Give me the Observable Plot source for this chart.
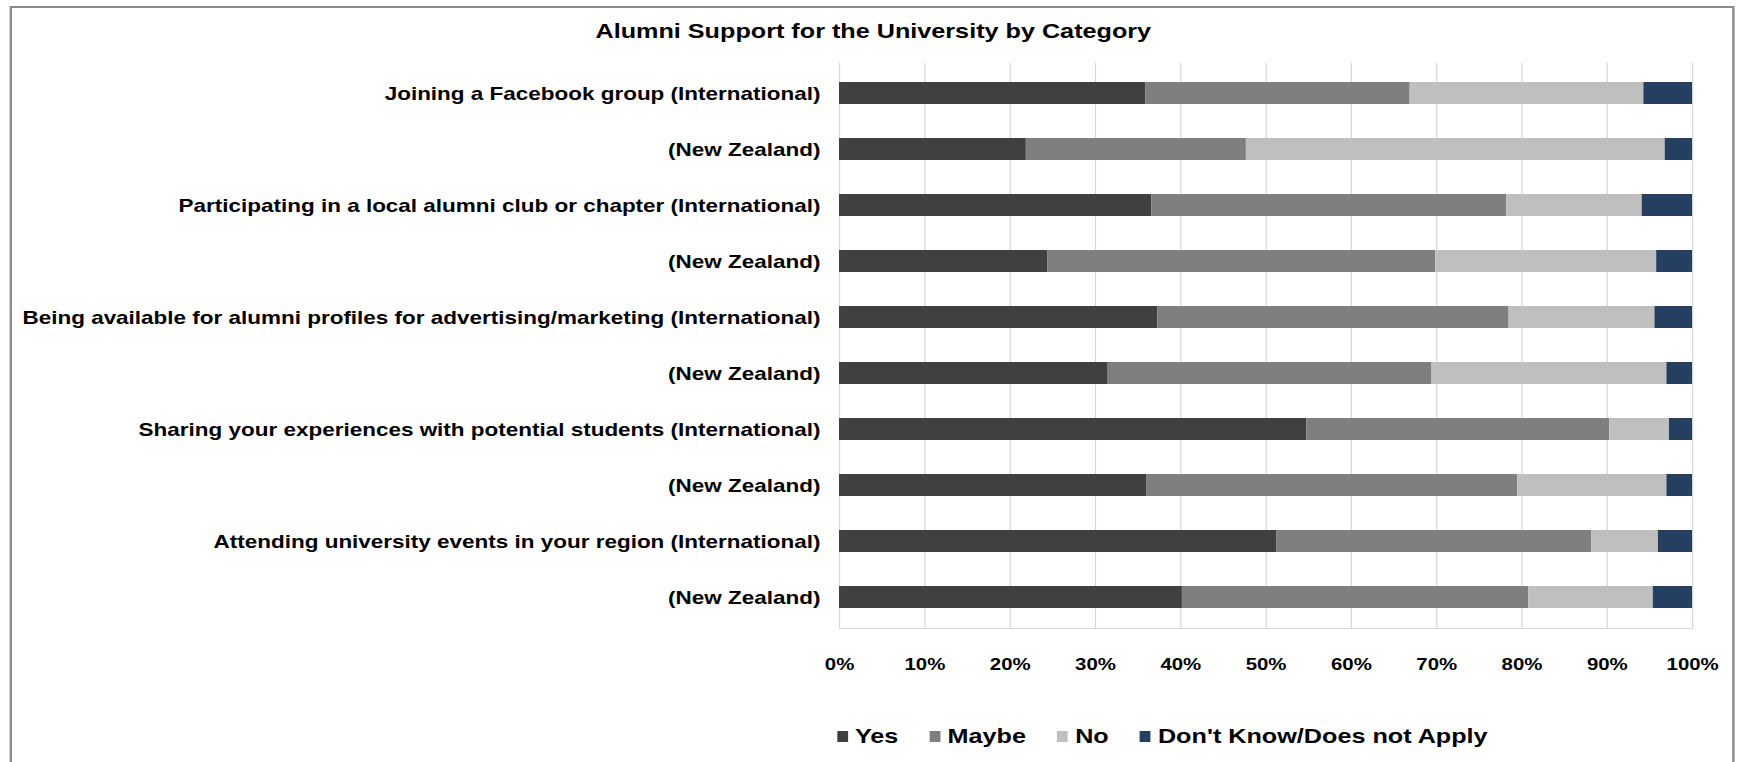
<!DOCTYPE html>
<html>
<head>
<meta charset="utf-8">
<script src="https://cdn.jsdelivr.net/npm/d3@7"></script>
<script src="https://cdn.jsdelivr.net/npm/@observablehq/plot@0.6"></script>
<style>
  html, body { margin: 0; padding: 0; background: #fff; overflow: hidden; }
  #page {
    position: absolute; left: 0; top: 0; width: 1448px; height: 762px;
    transform-origin: 0 0;
    font-family: "Liberation Sans", Arial, sans-serif; font-weight: bold; color: #000;
  }
  #frame {
    position: absolute; left: 8.3px; top: 6px; width: 1438px; height: 820px;
    box-sizing: border-box; border: 2px solid #8a8a8a;
  }
  #title {
    position: absolute; left: 0; top: 19px; width: 1456px; text-align: center;
    font-size: 21px; line-height: 24px;
  }
  #chart { position: absolute; left: 0; top: 0; }
  #legend {
    position: absolute; left: 697.7px; top: 724px; height: 24px;
    display: flex; align-items: center; gap: 26px; font-size: 21px; line-height: 24px;
  }
  .item { display: flex; align-items: center; }
  .sw { display: inline-block; width: 9px; height: 11px; margin-right: 6px; }
</style>
</head>
<body>
<div id="page">
  <div id="frame"></div>
  <div id="title"></div>
  <div id="chart"></div>
  <div id="legend"></div>
</div>
<script>
const title = "Alumni Support for the University by Category";
const categories = [
  "Joining a Facebook group (International)",
  "(New Zealand)",
  "Participating in a local alumni club or chapter (International)",
  "(New Zealand)",
  "Being available for alumni profiles for advertising/marketing (International)",
  "(New Zealand)",
  "Sharing your experiences with potential students (International)",
  "(New Zealand)",
  "Attending university events in your region (International)",
  "(New Zealand)"
];
const series = ["Yes", "Maybe", "No", "Don't Know/Does not Apply"];
const colors = ["#404040", "#7f7f7f", "#bfbfbf", "#243f60"];
const yes   = [35.9, 21.9, 36.6, 24.4, 37.3, 31.5, 54.8, 36.0, 51.3, 40.2];
const maybe = [31.0, 25.8, 41.6, 45.5, 41.2, 37.9, 35.5, 43.5, 36.9, 40.6];
const no    = [27.4, 49.1, 15.9, 25.9, 17.1, 27.6,  7.0, 17.5,  7.8, 14.6];
const dk    = [ 5.7,  3.2,  5.9,  4.2,  4.4,  3.0,  2.7,  3.0,  4.0,  4.6];
const xTicks = [0, 10, 20, 30, 40, 50, 60, 70, 80, 90, 100];

const S = 1737 / 1448;
document.getElementById("page").style.transform = `scaleX(${S})`;
document.getElementById("title").textContent = title;

const valuesBySeries = [yes, maybe, no, dk];
const data = [];
categories.forEach((c, i) => {
  series.forEach((s, j) => data.push({row: i, series: s, value: valuesBySeries[j][i]}));
});

const chart = Plot.plot({
  width: 1448,
  height: 762,
  marginLeft: 699.4,
  marginRight: 37.5,
  marginTop: 63,
  marginBottom: 134,
  style: {background: "transparent", fontFamily: "'Liberation Sans', Arial, sans-serif", fontWeight: "bold", color: "#000"},
  x: {domain: [0, 100], axis: null, label: null},
  y: {domain: d3.range(categories.length), paddingInner: 0.6, paddingOuter: 0.3, axis: null, label: null},
  color: {domain: series, range: colors},
  marks: [
    Plot.ruleX(xTicks, {stroke: "#d6d6d6", strokeWidth: 1}),
    Plot.frame({anchor: "bottom", stroke: "#d6d6d6"}),
    Plot.barX(data, Plot.stackX({y: "row", x: "value", fill: "series"})),
    Plot.axisY({tickSize: 0, tickPadding: 16, fontSize: 18.75, label: null, tickFormat: i => categories[i], fill: "#000"}),
    Plot.axisX({ticks: xTicks, tickSize: 0, tickPadding: 29, fontSize: 17, label: null, tickFormat: d => d + "%", fill: "#000"})
  ]
});
document.getElementById("chart").appendChild(chart);

const legend = document.getElementById("legend");
series.forEach((s, j) => {
  const item = document.createElement("div");
  item.className = "item";
  const sw = document.createElement("span");
  sw.className = "sw";
  sw.style.background = colors[j];
  const t = document.createElement("span");
  t.textContent = s;
  item.appendChild(sw);
  item.appendChild(t);
  legend.appendChild(item);
});
</script>
</body>
</html>
